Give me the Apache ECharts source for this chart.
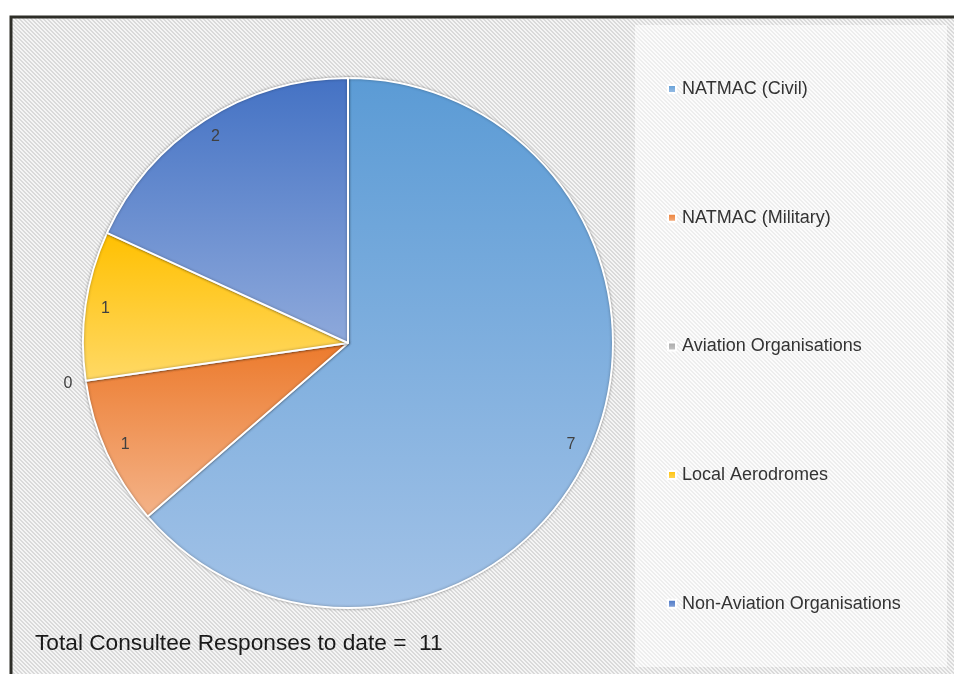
<!DOCTYPE html>
<html>
<head>
<meta charset="utf-8">
<script src="https://cdn.jsdelivr.net/npm/echarts@6/dist/echarts.min.js"></script>
<style>
  body { margin: 0; background: #fff; }
  #chart { width: 954px; height: 674px; }
</style>
</head>
<body>
<div id="chart"></div>
<script>
// data
var categories = ['NATMAC (Civil)', 'NATMAC (Military)', 'Aviation Organisations', 'Local Aerodromes', 'Non-Aviation Organisations'];
var responses = [7, 1, 0, 1, 2];
var titleText = 'Total Consultee Responses to date =  ';

// gradient colours, top -> bottom of each slice
var topColors = ['#5b9bd5', '#ec7a2c', '#a5a5a5', '#ffc000', '#4472c4'];
var bottomColors = ['#a2c2e7', '#f4b389', '#c9c9c9', '#ffd966', '#8ea9db'];

var total = responses.reduce(function (a, b) { return a + b; }, 0);

// hatched background pattern
function hatch(dark, light) {
    var c = document.createElement('canvas');
    c.width = 4; c.height = 4;
    var ctx = c.getContext('2d');
    for (var x = 0; x < 4; x++) {
        for (var y = 0; y < 4; y++) {
            ctx.fillStyle = ((x - y + 8) % 4 < 2) ? dark : light;
            ctx.fillRect(x, y, 1, 1);
        }
    }
    return { image: c, repeat: 'repeat' };
}

function grad(i) {
    return new echarts.graphic.LinearGradient(0, 0, 0, 1, [
        { offset: 0, color: topColors[i] },
        { offset: 1, color: bottomColors[i] }
    ]);
}

var pieData = categories.map(function (name, i) {
    return { name: name, value: responses[i], itemStyle: { color: grad(i) } };
});
var labelData = categories.map(function (name, i) {
    return { name: name, value: responses[i] };
});

var myChart = echarts.init(document.getElementById('chart'));

myChart.setOption({
    animation: false,
    graphic: [
        {
            type: 'rect', z: -10,
            shape: { x: 11, y: 17, width: 980, height: 700 },
            style: { fill: hatch('#dadada', '#f5f5f5'), stroke: '#2e2e28', lineWidth: 3 }
        },
        {
            type: 'rect', z: -9,
            shape: { x: 635, y: 25, width: 312, height: 642 },
            style: { fill: hatch('#eeeeee', '#fcfcfc') }
        }
    ],
    title: {
        text: titleText + total,
        left: 30,
        top: 627,
        textStyle: { fontFamily: 'Liberation Sans', fontSize: 22.7, fontWeight: 'normal', color: '#1a1a1a' }
    },
    legend: {
        orient: 'vertical',
        left: 662,
        top: 75,
        icon: 'rect',
        itemWidth: 8,
        itemHeight: 8,
        itemGap: 110.7,
        data: categories,
        selectedMode: false,
        textStyle: { fontFamily: 'Liberation Sans', fontSize: 18, color: '#333', padding: [0, 0, 0, 1] }
    },
    series: [
        {
            type: 'pie',
            center: [348, 343],
            radius: [0, 265],
            startAngle: 90,
            clockwise: true,
            silent: true,
            label: { show: false },
            labelLine: { show: false },
            itemStyle: {
                borderColor: '#ffffff',
                borderWidth: 2,
                shadowBlur: 3,
                shadowColor: 'rgba(0,0,0,0.35)'
            },
            data: pieData
        },
        {
            // labels for non-zero slices, near the rim
            type: 'pie',
            center: [348, 343],
            radius: [228, 256],
            silent: true,
            itemStyle: { color: 'transparent' },
            label: {
                show: true,
                position: 'inside',
                fontFamily: 'Liberation Sans',
                fontSize: 16,
                color: '#404040',
                formatter: function (p) { return p.value > 0 ? p.value : ''; }
            },
            data: labelData
        },
        {
            // label for zero slice, just outside the rim
            type: 'pie',
            center: [348, 343],
            radius: [268, 292],
            silent: true,
            itemStyle: { color: 'transparent' },
            label: {
                show: true,
                position: 'inside',
                fontFamily: 'Liberation Sans',
                fontSize: 16,
                color: '#404040',
                formatter: function (p) { return p.value === 0 ? '0' : ''; }
            },
            data: labelData
        }
    ]
});
</script>
</body>
</html>
